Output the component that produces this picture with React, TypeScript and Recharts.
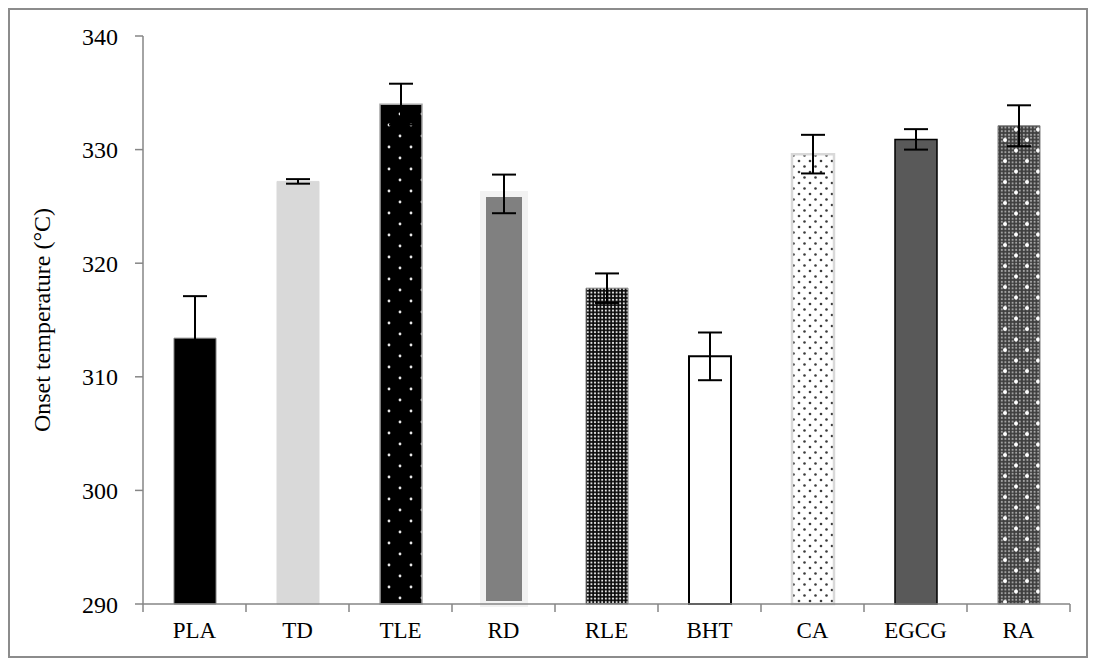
import React from "react";
import { ComposedChart, Bar, Cell, ErrorBar, XAxis, YAxis, Label } from "recharts";

// Onset temperature of PLA films with different additives
const samples = ["PLA", "TD", "TLE", "RD", "RLE", "BHT", "CA", "EGCG", "RA"];
const onsetTemp = [313.4, 327.2, 334.0, 326.1, 317.8, 311.8, 329.6, 330.9, 332.1];
const stdDev = [3.7, 0.2, 1.8, 1.7, 1.3, 2.1, 1.7, 0.9, 1.8];
const yTicks = [290, 300, 310, 320, 330, 340];

const data = samples.map((name, i) => ({ name, temp: onsetTemp[i], err: stdDev[i] }));

// fill / outline for each bar, in the same order as samples
const barStyles = [
  { fill: "#000000", stroke: "#7f7f7f", strokeWidth: 1 },
  { fill: "#d9d9d9", stroke: "#d9d9d9", strokeWidth: 1 },
  { fill: "url(#dotsOnBlack)", stroke: "#a6a6a6", strokeWidth: 1.5 },
  { fill: "#808080", stroke: "#f2f2f2", strokeWidth: 6 },
  { fill: "url(#fineChecker)", stroke: "#7f7f7f", strokeWidth: 1 },
  { fill: "#ffffff", stroke: "#000000", strokeWidth: 2 },
  { fill: "url(#dotsOnWhite)", stroke: "#d9d9d9", strokeWidth: 2.5 },
  { fill: "#595959", stroke: "#000000", strokeWidth: 1.5 },
  { fill: "url(#grayChecker)", stroke: "#808080", strokeWidth: 1 },
];

const AXIS_COLOR = "#868686";
const FONT = "'Liberation Serif', 'Times New Roman', serif";

// category label plus Excel-style tick marks on the band edges
const CategoryTick = (props: any) => {
  const { x, y, payload, index } = props;
  const half = payload?.offset ?? 51.5;
  const axisY = y - 18;
  return (
    <g>
      <line x1={x - half} y1={axisY} x2={x - half} y2={axisY + 8} stroke={AXIS_COLOR} strokeWidth={1.5} />
      {index === samples.length - 1 && (
        <line x1={x + half} y1={axisY} x2={x + half} y2={axisY + 8} stroke={AXIS_COLOR} strokeWidth={1.5} />
      )}
      <text x={x} y={y} dy="0.71em" textAnchor="middle" fontFamily={FONT} fontSize={23} fill="#000">
        {payload.value}
      </text>
    </g>
  );
};

const App: React.FC = () => {
  return (
    <div
      style={{
        width: 1080,
        height: 650,
        border: "2px solid #8c8c8c",
        boxSizing: "border-box",
        background: "#fff",
      }}
    >
      <ComposedChart
        width={1076}
        height={646}
        data={data}
        margin={{ top: 26, right: 16, left: 8, bottom: 12 }}
        barSize={42}
      >
        <defs>
          <pattern id="dotsOnBlack" width="22" height="22" patternUnits="userSpaceOnUse">
            <rect width="22" height="22" fill="#000" />
            <circle cx="5" cy="5" r="1.4" fill="#e8e8e8" />
            <circle cx="16" cy="16" r="1.4" fill="#e8e8e8" />
          </pattern>
          <pattern id="dotsOnWhite" width="11" height="11" patternUnits="userSpaceOnUse">
            <rect width="11" height="11" fill="#fff" />
            <circle cx="2.5" cy="2.5" r="1.3" fill="#3c3c3c" />
            <circle cx="8" cy="8" r="1.3" fill="#3c3c3c" />
          </pattern>
          <pattern id="fineChecker" width="3.6" height="3.6" patternUnits="userSpaceOnUse">
            <rect width="3.6" height="3.6" fill="#0a0a0a" />
            <circle cx="1.8" cy="1.8" r="1.05" fill="#f0f0f0" />
          </pattern>
          <pattern id="grayFine" width="3.6" height="3.6" patternUnits="userSpaceOnUse">
            <rect width="3.6" height="3.6" fill="#3e3e3e" />
            <circle cx="1.8" cy="1.8" r="1.05" fill="#a8a8a8" />
          </pattern>
          <pattern id="grayChecker" width="22" height="21" patternUnits="userSpaceOnUse">
            <rect width="22" height="21" fill="url(#grayFine)" />
            <circle cx="5" cy="4" r="2" fill="#ffffff" />
            <circle cx="16" cy="14.5" r="2" fill="#ffffff" />
          </pattern>
        </defs>
        <XAxis
          dataKey="name"
          height={40}
          stroke={AXIS_COLOR}
          axisLine={{ stroke: AXIS_COLOR, strokeWidth: 1.5 }}
          tickLine={false}
          tickSize={8}
          tickMargin={10}
          tick={<CategoryTick />}
          interval={0}
        />
        <YAxis
          width={125}
          domain={[290, 340]}
          ticks={yTicks}
          interval={0}
          axisLine={{ stroke: AXIS_COLOR, strokeWidth: 1.5 }}
          tickLine={{ stroke: AXIS_COLOR, strokeWidth: 1.5 }}
          tickSize={8}
          tickMargin={17}
          tick={{ fill: "#000", fontFamily: FONT, fontSize: 24 }}
        >
          <Label
            content={(props: any) => {
              const vb = props.viewBox || { x: 8, y: 26, width: 125, height: 568 };
              const cx = vb.x + 24;
              const cy = vb.y + vb.height / 2;
              return (
                <text
                  x={cx}
                  y={cy}
                  transform={`rotate(-90 ${cx} ${cy})`}
                  textAnchor="middle"
                  dominantBaseline="central"
                  fontFamily={FONT}
                  fontSize={24}
                  fill="#000"
                >
                  Onset temperature (°C)
                </text>
              );
            }}
          />
        </YAxis>
        <Bar dataKey="temp" isAnimationActive={false}>
          {data.map((d, i) => (
            <Cell key={d.name} fill={barStyles[i].fill} stroke={barStyles[i].stroke} strokeWidth={barStyles[i].strokeWidth} />
          ))}
          <ErrorBar dataKey="err" width={12} strokeWidth={2} stroke="#000" direction="y" isAnimationActive={false} />
        </Bar>
      </ComposedChart>
    </div>
  );
};

export default App;
